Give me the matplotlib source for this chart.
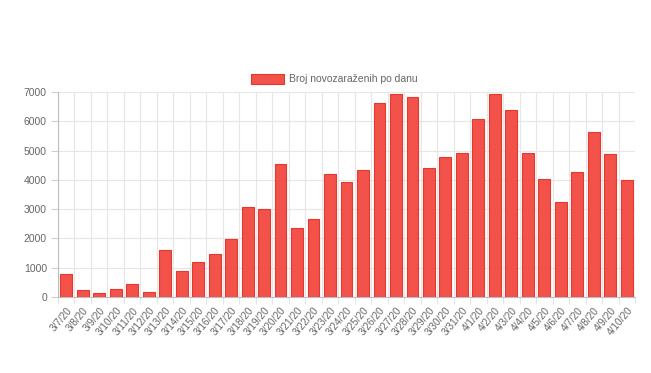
import matplotlib
matplotlib.use("Agg")
import matplotlib.pyplot as plt
import numpy as np

dates = ["3/7/20", "3/8/20", "3/9/20", "3/10/20", "3/11/20", "3/12/20", "3/13/20",
         "3/14/20", "3/15/20", "3/16/20", "3/17/20", "3/18/20", "3/19/20", "3/20/20",
         "3/21/20", "3/22/20", "3/23/20", "3/24/20", "3/25/20", "3/26/20", "3/27/20",
         "3/28/20", "3/29/20", "3/30/20", "3/31/20", "4/1/20", "4/2/20", "4/3/20",
         "4/4/20", "4/5/20", "4/6/20", "4/7/20", "4/8/20", "4/9/20", "4/10/20"]
new_cases = [800, 230, 130, 270, 440, 160, 1600, 900, 1200, 1470, 1980, 3070, 2990, 4530,
             2360, 2660, 4190, 3930, 4340, 6620, 6930, 6820, 4400, 4780, 4920, 6070, 6930,
             6370, 4930, 4030, 3250, 4280, 5630, 4880, 3990]
series_label = "Broj novozaraženih po danu"
y_ticks = [0, 1000, 2000, 3000, 4000, 5000, 6000, 7000]

plt.rcParams['font.family'] = ['Liberation Sans', 'DejaVu Sans']

W, H = 651, 373
fig = plt.figure(figsize=(W / 100, H / 100), dpi=100)
ax = fig.add_axes([58 / W, (H - 297) / H, (635 - 58) / W, (297 - 92) / H])

x = np.arange(len(dates))
bar_color = '#f2524a'
edge_color = '#e5382f'
ax.bar(x, new_cases, width=0.72, color=bar_color, edgecolor=edge_color, linewidth=0.8, zorder=3)

ax.set_xlim(-0.5, len(dates) - 0.5)
ax.set_ylim(0, 7000)
ax.set_yticks(y_ticks)
ax.set_yticklabels([str(t) for t in y_ticks])
ax.set_xticks(x)
ax.set_xticklabels(dates, rotation=50, ha='right', rotation_mode='anchor')
ax.set_xticks(np.arange(-0.5, len(dates), 1.0), minor=True)

ax.grid(True, which='minor', axis='x', color='#e6e6e6', linewidth=0.8, zorder=0)
ax.grid(True, which='major', axis='y', color='#e6e6e6', linewidth=0.8, zorder=0)

ax.tick_params(axis='x', which='major', length=0, pad=6, labelsize=7.2, labelcolor='#666666')
ax.tick_params(axis='x', which='minor', length=5, color='#e0e0e0')
ax.tick_params(axis='y', which='major', length=5, color='#d0d0d0', labelsize=7.5, labelcolor='#666666', pad=3)

for side in ['top', 'right']:
    ax.spines[side].set_visible(False)
ax.spines['left'].set_color('#bdbdbd')
ax.spines['bottom'].set_color('#bdbdbd')
ax.spines['left'].set_linewidth(0.8)
ax.spines['bottom'].set_linewidth(0.8)

# legend
fig.patches.append(matplotlib.patches.Rectangle((251 / W, 1 - 84 / H), 33 / W, 10 / H,
                                                transform=fig.transFigure, facecolor=bar_color,
                                                edgecolor=edge_color, linewidth=0.8))
fig.text(289 / W, 1 - 79 / H, series_label, fontsize=7.5, color='#666666', va='center', ha='left')

fig.savefig("out.png", dpi=100)
